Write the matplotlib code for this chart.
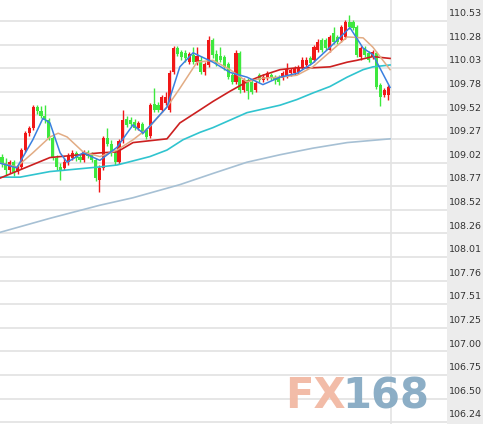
import matplotlib
matplotlib.use("Agg")
import matplotlib.pyplot as plt
import numpy as np

# ---------------- data ----------------
opens = [109.08,109.01,108.94,109.02,108.92,108.97,109.15,109.33,109.39,109.61,
         109.57,109.51,109.47,109.28,109.07,108.97,108.96,109.02,109.07,109.12,
         109.08,109.04,109.13,109.10,109.04,108.83,108.96,109.28,109.22,109.12,
         109.02,109.25,109.48,109.47,109.45,109.39,109.43,109.36,109.30,109.64,
         109.63,109.58,109.65,109.58,109.99,110.24,110.20,110.19,110.09,110.17,
         110.09,110.11,109.99,110.06,110.33,110.18,110.16,110.15,110.07,109.95,
         109.88,110.19,109.79,109.90,109.88,109.79,109.95,109.90,109.92,109.95,
         109.93,109.93,109.92,109.93,109.97,109.97,109.99,110.04,110.06,110.13,
         110.11,110.22,110.33,110.33,110.22,110.40,110.36,110.33,110.36,110.52,
         110.52,110.47,110.15,110.24,110.19,110.15,110.19,109.85,109.74,109.74]
closes = [109.01,108.94,109.02,108.92,108.97,109.15,109.33,109.39,109.61,109.57,
          109.51,109.47,109.28,109.07,108.97,108.94,109.02,109.09,109.12,109.07,
          109.04,109.13,109.09,109.04,108.85,108.96,109.28,109.22,109.12,109.02,
          109.25,109.47,109.42,109.43,109.39,109.44,109.34,109.29,109.63,109.58,
          109.58,109.72,109.72,109.97,110.24,110.18,110.15,110.13,110.18,110.09,
          110.16,109.99,110.07,110.33,110.17,110.08,110.11,110.04,109.93,109.88,
          110.19,109.79,109.90,109.78,109.77,109.87,109.90,109.93,109.97,109.92,
          109.90,109.88,109.97,110.02,110.01,110.03,110.04,110.11,110.11,110.08,
          110.25,110.31,110.22,110.24,110.36,110.31,110.31,110.47,110.52,110.47,
          110.46,110.17,110.24,110.17,110.11,110.20,109.82,109.72,109.79,109.82]
highs = [109.11,109.07,109.04,109.04,108.99,109.17,109.35,109.41,109.63,109.63,
         109.62,109.63,109.49,109.30,109.10,109.01,109.07,109.12,109.15,109.14,
         109.11,109.15,109.15,109.13,109.07,108.99,109.30,109.39,109.26,109.15,
         109.27,109.58,109.51,109.50,109.48,109.46,109.45,109.39,109.65,109.81,
         109.66,109.74,109.77,110.01,110.26,110.26,110.22,110.22,110.20,110.25,
         110.25,110.16,110.09,110.37,110.35,110.22,110.25,110.17,110.09,109.97,
         110.22,110.21,109.92,109.92,109.90,109.89,109.97,109.96,110.00,109.97,
         109.95,109.95,110.00,110.08,110.03,110.05,110.06,110.14,110.14,110.16,
         110.27,110.34,110.35,110.35,110.38,110.47,110.38,110.49,110.54,110.59,
         110.54,110.49,110.26,110.26,110.21,110.22,110.21,109.87,109.81,109.85]
lows = [108.97,108.87,108.90,108.87,108.89,108.95,109.13,109.30,109.36,109.54,
        109.49,109.44,109.26,109.04,108.94,108.83,108.94,108.99,109.04,109.03,
        109.02,109.02,109.07,109.02,108.82,108.70,108.94,109.19,109.09,108.99,
        109.00,109.23,109.40,109.41,109.36,109.36,109.32,109.27,109.28,109.56,
        109.56,109.56,109.63,109.56,109.96,110.16,110.11,110.09,110.07,110.07,
        110.06,109.96,109.95,110.04,110.13,110.05,110.09,110.01,109.91,109.86,
        109.86,109.76,109.77,109.70,109.75,109.77,109.88,109.88,109.90,109.90,
        109.86,109.85,109.90,109.92,109.94,109.95,109.96,110.02,110.04,110.06,
        110.09,110.20,110.20,110.22,110.20,110.28,110.28,110.31,110.34,110.44,
        110.43,110.15,110.11,110.15,110.09,110.12,109.80,109.62,109.72,109.69]

# moving averages (bar index, price)
ma5_t = [-0.5,3.8,7.9,10.5,12.3,14.9,16.7,20.8,25.1,29.5,33.6,36.2,42.3,45.6,49,54.1,58.5,62.8,66.9,71.3,75.6,79.7,84.1,89.2,92.6,95.1,99.5]
ma5_v = [109.01,108.96,109.26,109.49,109.44,109.12,109.02,109.12,109.04,109.18,109.42,109.33,109.61,110.04,110.19,110.09,109.98,109.93,109.85,109.93,109.97,110.08,110.25,110.46,110.24,110.17,109.82]
ma10_t = [-0.5,3.8,7.9,12.3,14.4,16.7,20.8,25.1,29.5,33.6,37.9,42.3,45.6,50,54.1,58.5,62.8,66.9,71.3,75.6,79.7,84.1,88.5,92.6,95.1,99.5]
ma10_v = [109.01,108.97,109.12,109.29,109.33,109.29,109.13,109.08,109.15,109.26,109.40,109.61,109.81,110.09,110.11,110.01,109.88,109.92,109.93,109.95,110.04,110.20,110.36,110.35,110.25,110.01]
ma20_t = [-0.5,12.3,25.1,29.5,33.6,37.9,42.3,45.6,50.8,54.1,58.5,62.8,66.9,71.3,75.6,79.7,84.1,88.5,91,95.1,99.5]
ma20_v = [108.85,109.07,109.12,109.13,109.23,109.25,109.27,109.44,109.58,109.67,109.78,109.88,109.95,110.01,110.03,110.03,110.04,110.09,110.11,110.15,110.13]
ma40_t = [-0.5,4.6,12.3,25.1,29.5,37.9,42.3,46.4,50.8,54.1,62.8,71.3,75.6,79.7,84.1,88.5,92.6,95.1,99.5]
ma40_v = [108.86,108.86,108.92,108.97,108.99,109.08,109.15,109.26,109.34,109.39,109.55,109.63,109.69,109.76,109.83,109.93,110.01,110.04,110.06]
ma120_t = [-0.5,12.3,25.1,33.6,45.6,54.1,62.8,71.3,79.7,88.5,99.5]
ma120_v = [108.27,108.42,108.56,108.64,108.78,108.90,109.02,109.10,109.17,109.23,109.27]

tick_labels = ["110.53","110.28","110.03","109.78","109.52","109.27","109.02","108.77",
               "108.52","108.26","108.01","107.76","107.51","107.25","107.00","106.75",
               "106.50","106.24"]
tick_vals = np.linspace(110.53, 106.24, len(tick_labels))

# ---------------- figure ----------------
W, H = 483, 424
fig = plt.figure(figsize=(W/100, H/100), dpi=100)
fig.patch.set_facecolor("white")
panel = fig.add_axes([447/W, 0, 1-447/W, 1])
panel.set_facecolor("#ececec")
panel.set_xticks([]); panel.set_yticks([])
for s in panel.spines.values():
    s.set_visible(False)

ax = fig.add_axes([0, 0, 447/W, 1])
ax.set_facecolor("white")
for s in ax.spines.values():
    s.set_visible(False)
ax.set_xlim(-0.51, 114.1)
ax.set_ylim(106.22, 110.755)
ax.set_xticks([]); ax.set_yticks([])
panel.set_ylim(ax.get_ylim())
panel.set_xlim(0, 1)

for v in tick_vals:
    ax.axhline(v, color="#e6e6e6", lw=1.4, zorder=0)
ax.axvline(99.8, color="#e3e3e3", lw=1.2, zorder=0)

# watermark
ax.text(0.637, 0.066, "FX", transform=ax.transAxes, fontsize=30, fontweight="bold",
        color="#f2b9a3", alpha=0.95, zorder=0.5, va="center", ha="left", family="DejaVu Sans")
ax.text(0.765, 0.066, "168", transform=ax.transAxes, fontsize=30, fontweight="bold",
        color="#86aac3", alpha=0.95, zorder=0.5, va="center", ha="left", family="DejaVu Sans")

idx = np.arange(len(closes))
up_c, dn_c = "#f01818", "#3ee83e"
for i in idx:
    o, c, h, l = opens[i], closes[i], highs[i], lows[i]
    col = up_c if c >= o else dn_c
    ax.vlines(i, l, h, color=col, lw=1, zorder=3)
    ax.bar(i, max(abs(c-o), 0.012), bottom=min(o, c), width=0.78, color=col,
           edgecolor="none", zorder=3)

ax.plot(ma120_t, ma120_v, color="#a6c0d4", lw=1.2, zorder=4)
ax.plot(ma40_t, ma40_v, color="#30c4cf", lw=1.2, zorder=4)
ax.plot(ma20_t, ma20_v, color="#cc2020", lw=1.2, zorder=4)
ax.plot(ma10_t, ma10_v, color="#e2ac84", lw=1.1, zorder=4)
ax.plot(ma5_t, ma5_v, color="#3a80e0", lw=1.1, zorder=4)

for v, lab in zip(tick_vals, tick_labels):
    panel.text(0.04, v + 0.03, lab, fontsize=6.8, color="#333333", va="bottom", ha="left",
               family="DejaVu Sans")

fig.savefig("out.png", dpi=100)
